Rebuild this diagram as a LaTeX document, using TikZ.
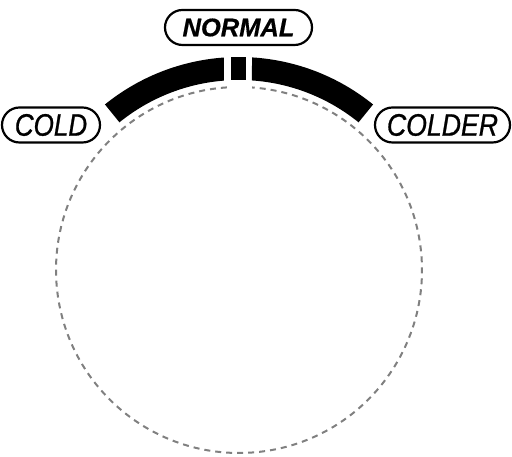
\documentclass[tikz,border=0pt]{standalone}
\usepackage{fontspec}
\setmainfont{Liberation Sans}
\newfontface\coldface{Liberation Sans Italic}[FakeBold=0.9]
\newfontface\normalface{Liberation Sans Bold Italic}[FakeBold=0.5]
\usepackage{graphicx}
\begin{document}
\begin{tikzpicture}[x=1pt,y=1pt,
  lbl/.style={draw=black, line width=2.2pt, rounded corners=17.5pt, minimum height=35pt, inner sep=0pt},
  lblfont/.style={font=\fontsize{31}{31}\coldface},
  boldfont/.style={font=\fontsize{25.5}{25.5}\normalface},
  band/.style={fill=black, draw=none},
  dial/.style={draw=black!50, line width=2pt, dash pattern=on 6pt off 5pt}]
\useasboundingbox (0,0) rectangle (512,457);
\begin{scope}[shift={(239,187)}]
  % dashed dial circle with a gap at the top
  \draw[dial] (93.8:183) arc[start angle=93.8, end angle=445.9, radius=183];
  % black band
  \fill[band] (129:213) arc[start angle=129, end angle=94.04, radius=213]
     -- (94.53:190) arc[start angle=94.53, end angle=129, radius=190] -- cycle;
  \fill[band] (-8,190) rectangle (7,213);
  \fill[band] (86.5:213) arc[start angle=86.5, end angle=51, radius=213]
     -- (51:190) arc[start angle=51, end angle=86.08, radius=190] -- cycle;
\end{scope}
\node[lbl, boldfont, minimum width=147pt] (normal) at (238.5,429.5) {NORMAL};
\node[lbl, lblfont, minimum width=98pt] (cold) at (51,332) {\scalebox{0.84}[1]{COLD}};
\node[lbl, lblfont, minimum width=135pt] (colder) at (442.5,332) {\scalebox{0.86}[1]{COLDER}};
\end{tikzpicture}
\end{document}
